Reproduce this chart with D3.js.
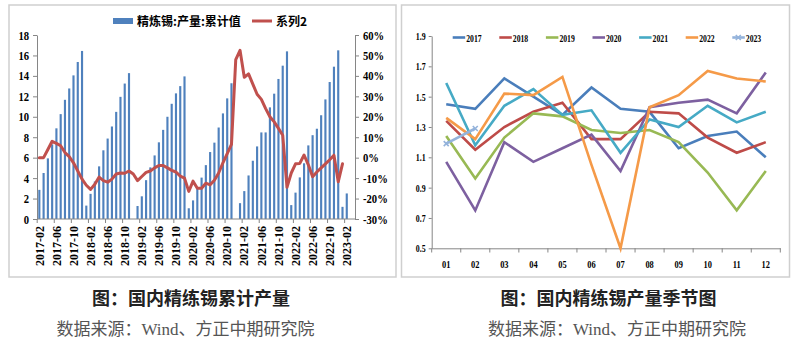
<!DOCTYPE html>
<html><head><meta charset="utf-8">
<script src="https://cdn.jsdelivr.net/npm/d3@7"></script>
<style>body{margin:0;background:#fff}</style>
</head><body>
<svg id="c" width="801" height="353" xmlns="http://www.w3.org/2000/svg"></svg>
<script>
// ---------- DATA ----------
const months = d3.timeMonth.range(new Date(2017,1,1), new Date(2023,2,1)).map(d3.timeFormat("%Y-%m")); // 2017-02 .. 2023-02
const cumOutput = [
  2.85, 4.5, 5.93, 7.3, 8.87, 10.26, 11.66, 12.77, 14.05, 15.36, 16.44,
  1.31, 2.46, 3.67, 5.15, 6.72, 7.87, 9.05, 10.48, 11.95, 13.25, 14.27, null,
  1.27, 2.22, 3.8, 5.05, 6.22, 7.5, 8.72, 10.0, 11.27, 12.29, 13.0, 13.95,
  1.05, 1.82, 3.0, 4.05, 5.27, 6.55, 7.47, 8.95, 10.33, 11.8, 13.28, null,
  1.55, 2.73, 4.26, 5.7, 7.1, 8.47, 8.47, 10.92, 12.26, 13.7, 15.0, 16.4,
  1.36, 2.58, 4.07, 5.45, 7.2, 8.2, 8.83, 10.15, 11.7, 13.4, 14.9, 16.5,
  1.19, 2.5
];
const growth = [
  0, 0, 4, 8, 7, 5.8, 2.5, 0.5, -2.5, -6.5, -10.5,
  -13.5, -15.5, -13, -9.5, -11.2, -12, -10.5, -8, -7.5, -7.6, -6.5, -8,
  -11.2, -9.2, -7.2, -6.5, -5, -3.8, -3.8, -5, -6.2, -7, -9, -10,
  -16.5, -11.5, -15, -15, -12.5, -13.3, -11, -7.5, -2.5, 2, 6.5, 48,
  52.5, 39.3, 41, 36, 31, 28.5, 24, 20, 17.5, 14.3, 11, -14.5,
  -7.5, -3, -2.8, 1.3, -3.5, -9.3, -7, -5, -3, -1, 1.2, -11.8,
  -3, null
];
const leftTicks = [0, 2, 4, 6, 8, 10, 12, 14, 16, 18];
const rightTicks = [-30, -20, -10, 0, 10, 20, 30, 40, 50, 60];
const barName = "精炼锡:产量:累计值";
const lineName = "系列2";

const seasonMonths = ["01","02","03","04","05","06","07","08","09","10","11","12"];
const seasonTicks = [0.5, 0.7, 0.9, 1.1, 1.3, 1.5, 1.7, 1.9];
const years = ["2017","2018","2019","2020","2021","2022","2023"];
const s2017 = [1.45, 1.42, 1.62, 1.50, 1.38, 1.56, 1.42, 1.40, 1.16, 1.24, 1.27, 1.10];
const s2018 = [1.34, 1.15, 1.30, 1.40, 1.46, 1.22, 1.22, 1.40, 1.39, 1.23, 1.13, 1.20];
const s2019 = [1.24, 0.96, 1.23, 1.39, 1.37, 1.28, 1.26, 1.28, 1.20, 1.00, 0.75, 1.01];
const s2020 = [1.07, 0.75, 1.20, 1.07, 1.16, 1.25, 1.01, 1.43, 1.46, 1.48, 1.39, 1.66];
const s2021 = [1.59, 1.18, 1.44, 1.55, 1.38, 1.41, 1.13, 1.35, 1.30, 1.44, 1.33, 1.40];
const s2022 = [1.36, 1.22, 1.52, 1.51, 1.63, 1.05, 0.50, 1.43, 1.51, 1.67, 1.62, 1.60];
const s2023 = [1.19, 1.29];
const seasonSeries = [s2017, s2018, s2019, s2020, s2021, s2022, s2023];
const seasonColors = ["#4A7EBB", "#BE4B48", "#98B954", "#7D60A0", "#46AAC5", "#F59A48", "#94B3DB"];

const titleL = "图：国内精练锡累计产量";
const titleR = "图：国内精练锡产量季节图";
const source = "数据来源：Wind、方正中期研究院";

// ---------- SVG ----------
const svg = d3.select("#c");
const NUM = "'Liberation Serif','Times New Roman',serif";
const CJK = "'Noto Sans CJK SC','Noto Sans',sans-serif";
const MIX = "'Liberation Serif','Noto Sans CJK SC',serif";
const axisGray = "#868686";

// panels
svg.append("rect").attr("x",9).attr("y",5).attr("width",387).attr("height",272)
  .attr("fill","#fff").attr("stroke","#cfcfcf").attr("stroke-width",1.5);
svg.append("rect").attr("x",401.5).attr("y",5).attr("width",388).attr("height",272)
  .attr("fill","#fff").attr("stroke","#cfcfcf").attr("stroke-width",1.5);

// ---------- LEFT CHART ----------
const x = d3.scaleBand().domain(months).range([37.2, 348.9]).paddingInner(0.5).paddingOuter(0.25);
const yL = d3.scaleLinear().domain([0, 18]).range([219, 35]);
const yR = d3.scaleLinear().domain([-30, 60]).range([219, 35]);
const xRightAxis = 355;

const L = svg.append("g");
// bars
L.append("g").selectAll("rect").data(months.map((m,i)=>({m, v: cumOutput[i]})).filter(d=>d.v!=null))
  .join("rect")
  .attr("x", d => x(d.m)).attr("width", x.bandwidth())
  .attr("y", d => yL(d.v)).attr("height", d => yL(0) - yL(d.v))
  .attr("fill", "#4F81BD");

// left axis
const gl = L.append("g").attr("transform","translate(37,0)")
  .call(d3.axisLeft(yL).tickValues(leftTicks).tickSize(4).tickSizeOuter(0).tickPadding(4));
gl.select(".domain").attr("stroke", axisGray);
gl.selectAll(".tick line").attr("stroke", axisGray);
gl.selectAll(".tick text").attr("font-family", NUM).attr("font-weight","bold").attr("font-size",12.5)
  .attr("fill","#000").attr("transform","scale(0.85,1)").attr("x", -8/0.85);

// right axis
const gr = L.append("g").attr("transform",`translate(${xRightAxis},0)`)
  .call(d3.axisRight(yR).tickValues(rightTicks).tickSize(4).tickSizeOuter(0).tickPadding(3)
    .tickFormat(d => d + "%"));
gr.select(".domain").attr("stroke", axisGray);
gr.selectAll(".tick line").attr("stroke", axisGray);
gr.selectAll(".tick text").attr("font-family", NUM).attr("font-weight","bold").attr("font-size",12.5)
  .attr("fill","#000").attr("transform","scale(0.85,1)").attr("x", 8/0.85);

// bottom axis
const step = x.step();
const labelMonths = months.filter((m,i) => i % 4 === 0);
const gb = L.append("g").attr("transform","translate(0,219)")
  .call(d3.axisBottom(x).tickValues(labelMonths).tickSize(4).tickSizeOuter(0));
gb.select(".domain").remove();
L.append("line").attr("x1",37).attr("x2",xRightAxis).attr("y1",219).attr("y2",219).attr("stroke",axisGray);
gb.selectAll(".tick line").attr("stroke", axisGray).attr("x1",-step/2).attr("x2",-step/2);
gb.selectAll(".tick text").attr("font-family", NUM).attr("font-weight","bold").attr("font-size",12)
  .attr("fill","#000").attr("text-anchor","end")
  .attr("transform","rotate(-90)").attr("x",-7).attr("y",0).attr("dy","0.35em");

// growth line
const lineG = d3.line().defined(d => d.v != null)
  .x(d => x(d.m) + x.bandwidth()/2).y(d => yR(d.v));
L.append("path").datum(months.map((m,i)=>({m, v: growth[i]})))
  .attr("d", lineG).attr("fill","none").attr("stroke","#C0504D").attr("stroke-width",3)
  .attr("stroke-linejoin","round").attr("stroke-linecap","round");

// legend
L.append("rect").attr("x",113).attr("y",18).attr("width",20).attr("height",6).attr("fill","#4F81BD");
L.append("text").attr("x",137).attr("y",25.5).text(barName)
  .attr("font-family",CJK).attr("font-weight","bold").attr("font-size",12).attr("fill","#000");
L.append("line").attr("x1",252).attr("x2",272).attr("y1",21).attr("y2",21)
  .attr("stroke","#C0504D").attr("stroke-width",3);
L.append("text").attr("x",276).attr("y",25.5).text(lineName)
  .attr("font-family",CJK).attr("font-weight","bold").attr("font-size",12).attr("fill","#000");

// ---------- RIGHT CHART ----------
const xs = d3.scaleBand().domain(seasonMonths).range([431.7, 780.3]);
const ys = d3.scaleLinear().domain([0.5, 1.9]).range([248.3, 36]);
const R = svg.append("g");

const ga = R.append("g").attr("transform","translate(431.7,0)")
  .call(d3.axisLeft(ys).tickValues(seasonTicks).tickSize(3).tickSizeOuter(0).tickPadding(3)
    .tickFormat(d3.format(".1f")));
ga.select(".domain").attr("stroke", axisGray);
ga.selectAll(".tick line").attr("stroke", axisGray);
ga.selectAll(".tick text").attr("font-family", NUM).attr("font-weight","bold").attr("font-size",10.5)
  .attr("fill","#000").attr("transform","scale(0.75,1)").attr("x", -6/0.75);

const gx = R.append("g").attr("transform","translate(0,248.3)")
  .call(d3.axisBottom(xs).tickSize(0).tickSizeOuter(0).tickPadding(12));
gx.select(".domain").attr("stroke", axisGray);
gx.selectAll(".tick text").attr("font-family", NUM).attr("font-weight","bold").attr("font-size",10.5)
  .attr("fill","#000").attr("transform","scale(0.8,1)");
// ticks at category boundaries
R.append("g").selectAll("line").data(seasonMonths.concat(["end"]))
  .join("line")
  .attr("x1", (d,i) => 431.7 + i*xs.step()).attr("x2", (d,i) => 431.7 + i*xs.step())
  .attr("y1", 248.3).attr("y2", 252.5).attr("stroke", axisGray);

// series lines
const lineS = d3.line().x((d,i) => xs(seasonMonths[i]) + xs.bandwidth()/2).y(d => ys(d));
seasonSeries.forEach((s, k) => {
  R.append("path").datum(s).attr("d", lineS).attr("fill","none")
    .attr("stroke", seasonColors[k]).attr("stroke-width", 2.6).attr("stroke-linejoin","miter");
});
// markers for 2023
R.append("g").selectAll("path").data(s2023).join("path")
  .attr("transform",(d,i)=>`translate(${xs(seasonMonths[i]) + xs.bandwidth()/2},${ys(d)})`)
  .attr("d","M-2.5,-2.5L2.5,2.5M-2.5,2.5L2.5,-2.5")
  .attr("stroke", seasonColors[6]).attr("stroke-width",1.6);

// legend
years.forEach((yname, k) => {
  const lx = 452.7 + k*46.6;
  R.append("line").attr("x1", lx).attr("x2", lx+12.5).attr("y1",37.5).attr("y2",37.5)
    .attr("stroke", seasonColors[k]).attr("stroke-width",2.6);
  if (k === 6) {
    R.append("path").attr("transform",`translate(${lx+6},37.5)`)
      .attr("d","M-2.5,-2.5L2.5,2.5M-2.5,2.5L2.5,-2.5").attr("stroke",seasonColors[6]).attr("stroke-width",1.6);
  }
  R.append("text").attr("transform",`translate(${lx+13.5},41.5) scale(0.7,1)`).text(yname)
    .attr("font-family",NUM).attr("font-weight","bold").attr("font-size",11).attr("fill","#000");
});

// ---------- CAPTIONS ----------
svg.append("text").attr("x",191).attr("y",305).attr("text-anchor","middle").text(titleL)
  .attr("font-family",CJK).attr("font-weight","bold").attr("font-size",18).attr("fill","#222");
svg.append("text").attr("x",608.5).attr("y",305).attr("text-anchor","middle").text(titleR)
  .attr("font-family",CJK).attr("font-weight","bold").attr("font-size",18).attr("fill","#222");
svg.append("text").attr("x",185.5).attr("y",335).attr("text-anchor","middle").text(source)
  .attr("font-family",MIX).attr("font-size",17).attr("fill","#555");
svg.append("text").attr("x",617).attr("y",335).attr("text-anchor","middle").text(source)
  .attr("font-family",MIX).attr("font-size",17).attr("fill","#555");
</script>
</body></html>
